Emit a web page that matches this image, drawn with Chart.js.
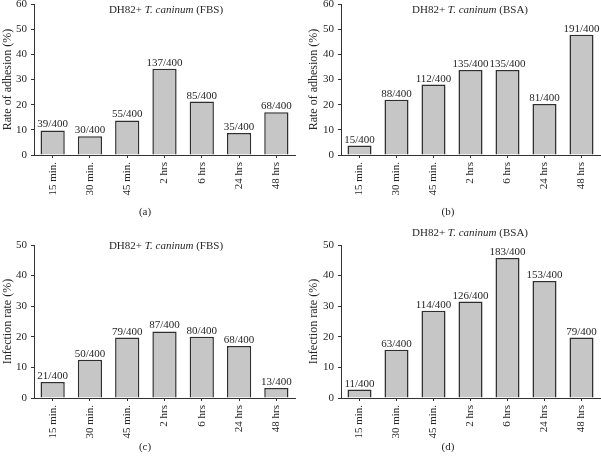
<!DOCTYPE html>
<html>
<head>
<meta charset="utf-8">
<script src="https://cdn.jsdelivr.net/npm/chart.js@4.4.1/dist/chart.umd.min.js"></script>
<style>
  html, body { margin: 0; padding: 0; background: #fff; }
  #wrap { position: relative; width: 601px; height: 458px; overflow: hidden; }
  .panel { position: absolute; }
  .lbl {
    position: absolute;
    transform: translate(-50%, -50%);
    white-space: nowrap;
    font-family: "Liberation Serif", "DejaVu Serif", serif;
    font-size: 11px;
    color: #262626;
  }
</style>
</head>
<body>
<div id="wrap">
  <div class="panel" style="left:0;top:-10px;width:300px;height:238px"><canvas id="chart-a"></canvas></div>
  <div class="panel" style="left:300px;top:-10px;width:301px;height:238px"><canvas id="chart-b"></canvas></div>
  <div class="panel" style="left:0;top:231px;width:300px;height:227px"><canvas id="chart-c"></canvas></div>
  <div class="panel" style="left:300px;top:231px;width:301px;height:227px"><canvas id="chart-d"></canvas></div>

  <div class="lbl" style="left:166px;top:9px">DH82+ <i>T. caninum</i> (FBS)</div>
  <div class="lbl" style="left:470px;top:9px">DH82+ <i>T. caninum</i> (BSA)</div>
  <div class="lbl" style="left:166px;top:245px">DH82+ <i>T. caninum</i> (FBS)</div>
  <div class="lbl" style="left:470px;top:232px">DH82+ <i>T. caninum</i> (BSA)</div>

  <div class="lbl" style="left:145px;top:211px">(a)</div>
  <div class="lbl" style="left:448px;top:211px">(b)</div>
  <div class="lbl" style="left:145px;top:446px">(c)</div>
  <div class="lbl" style="left:448px;top:446px">(d)</div>
</div>

<script>
const categories = ['15 min.', '30 min.', '45 min.', '2 hrs', '6 hrs', '24 hrs', '48 hrs'];

// (a) adhesion, FBS
const adhesionFbs = [9.75, 7.5, 13.75, 34.25, 21.25, 8.75, 17];
const adhesionFbsLabels = ['39/400', '30/400', '55/400', '137/400', '85/400', '35/400', '68/400'];

// (b) adhesion, BSA
const adhesionBsa = [3.75, 22, 28, 33.75, 33.75, 20.25, 47.75];
const adhesionBsaLabels = ['15/400', '88/400', '112/400', '135/400', '135/400', '81/400', '191/400'];

// (c) infection, FBS
const infectionFbs = [5.25, 12.5, 19.75, 21.75, 20, 17, 3.25];
const infectionFbsLabels = ['21/400', '50/400', '79/400', '87/400', '80/400', '68/400', '13/400'];

// (d) infection, BSA
const infectionBsa = [2.75, 15.75, 28.5, 31.5, 45.75, 38.25, 19.75];
const infectionBsaLabels = ['11/400', '63/400', '114/400', '126/400', '183/400', '153/400', '79/400'];

const serif = '"Liberation Serif", "DejaVu Serif", serif';
const ink = '#262626';
const axisColor = '#333';

const barLabels = {
  id: 'barLabels',
  afterDatasetsDraw(chart, args, opts) {
    const { ctx } = chart;
    const meta = chart.getDatasetMeta(0);
    ctx.save();
    ctx.font = `11px ${serif}`;
    ctx.fillStyle = ink;
    ctx.textAlign = 'center';
    ctx.textBaseline = 'alphabetic';
    meta.data.forEach((bar, i) => {
      ctx.fillText(opts.texts[i], bar.x, bar.y - 3);
    });
    ctx.restore();
  },
};

function makeChart(id, values, texts, cfg) {
  return new Chart(document.getElementById(id), {
    type: 'bar',
    data: {
      labels: categories,
      datasets: [{
        data: values,
        backgroundColor: '#c6c6c6',
        borderColor: '#2e2e2e',
        borderWidth: 1.5,
        categoryPercentage: 1,
        barPercentage: 0.65,
      }],
    },
    plugins: [barLabels],
    options: {
      responsive: true,
      maintainAspectRatio: false,
      animation: false,
      layout: { padding: { top: 14, right: cfg.padRight, left: 0, bottom: 0 } },
      plugins: {
        legend: { display: false },
        tooltip: { enabled: false },
        barLabels: { texts },
      },
      scales: {
        x: {
          grid: { offset: false, drawOnChartArea: false, tickLength: 3, color: axisColor },
          border: { color: axisColor, width: 1 },
          ticks: {
            minRotation: 90,
            maxRotation: 90,
            autoSkip: false,
            padding: 4,
            color: ink,
            font: { family: serif, size: 11 },
          },
          afterFit: (scale) => { scale.height = cfg.xHeight; },
        },
        y: {
          min: 0,
          max: cfg.yMax,
          grid: { drawOnChartArea: false, tickLength: 3, color: axisColor },
          border: { color: axisColor, width: 1 },
          ticks: {
            stepSize: 10,
            padding: 4,
            color: ink,
            font: { family: serif, size: 11 },
          },
          title: {
            display: true,
            text: cfg.yTitle,
            color: ink,
            font: { family: serif, size: 12 },
            padding: { top: cfg.titlePad, bottom: 0 },
          },
          afterFit: (scale) => { scale.width = cfg.yWidth; },
        },
      },
    },
  });
}

makeChart('chart-a', adhesionFbs, adhesionFbsLabels,
  { yMax: 60, yTitle: 'Rate of adhesion (%)', yWidth: 34, titlePad: 1, padRight: 5, xHeight: 73 });
makeChart('chart-b', adhesionBsa, adhesionBsaLabels,
  { yMax: 60, yTitle: 'Rate of adhesion (%)', yWidth: 41, titlePad: 7, padRight: 1, xHeight: 73 });
makeChart('chart-c', infectionFbs, infectionFbsLabels,
  { yMax: 50, yTitle: 'Infection rate (%)', yWidth: 34, titlePad: 1, padRight: 5, xHeight: 60 });
makeChart('chart-d', infectionBsa, infectionBsaLabels,
  { yMax: 50, yTitle: 'Infection rate (%)', yWidth: 41, titlePad: 7, padRight: 1, xHeight: 60 });
</script>
</body>
</html>
